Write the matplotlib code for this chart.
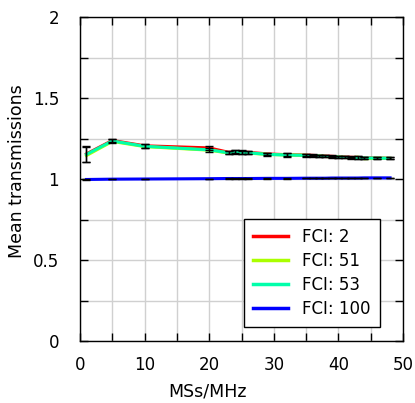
import matplotlib
matplotlib.use("Agg")
import matplotlib.pyplot as plt
import numpy as np

x = [1, 5, 10, 20, 23, 24, 25, 26, 29, 32, 35, 36, 37, 38, 39, 40, 41, 42, 43, 44, 46, 48]

fci2 = [1.155, 1.238, 1.205, 1.192, 1.165, 1.168, 1.166, 1.165, 1.155, 1.150, 1.148, 1.146, 1.144, 1.142, 1.140, 1.138, 1.136, 1.134, 1.133, 1.131, 1.130, 1.128]
fci51 = [1.145, 1.232, 1.200, 1.178, 1.160, 1.166, 1.162, 1.160, 1.152, 1.148, 1.146, 1.143, 1.141, 1.139, 1.137, 1.135, 1.133, 1.131, 1.135, 1.125, 1.128, 1.127]
fci53 = [1.152, 1.235, 1.202, 1.180, 1.162, 1.167, 1.164, 1.162, 1.152, 1.148, 1.146, 1.144, 1.142, 1.140, 1.138, 1.136, 1.134, 1.132, 1.132, 1.130, 1.129, 1.128]
fci100 = [0.997, 0.999, 1.000, 1.002, 1.003, 1.003, 1.003, 1.003, 1.004, 1.004, 1.005, 1.005, 1.005, 1.005, 1.006, 1.006, 1.006, 1.006, 1.006, 1.007, 1.007, 1.007]
err = [0.048, 0.012, 0.012, 0.012, 0.008, 0.010, 0.010, 0.010, 0.008, 0.010, 0.008, 0.006, 0.006, 0.006, 0.006, 0.006, 0.006, 0.006, 0.008, 0.006, 0.006, 0.006]

labels = ["FCI: 2", "FCI: 51", "FCI: 53", "FCI: 100"]
colors = ["#ff0000", "#aaff00", "#00ffaa", "#0000ff"]

plt.rcParams['font.family'] = ['DejaVu Sans']
fig = plt.figure(figsize=(4.15, 4.03), dpi=100)
ax = fig.add_axes([80/415, 1-341/403, 323/415, 324/403])

series = [fci2, fci51, fci53, fci100]
for s, c, l in zip(series, colors, labels):
    ax.plot(x, s, color=c, lw=2.2, label=l, zorder=3)
for s in [fci2, fci53]:
    ax.errorbar(x, s, yerr=err, fmt='none', ecolor='black', elinewidth=1.0, capsize=2.8, capthick=1.0, zorder=4)
ax.errorbar(x, fci100, yerr=[0.001]*len(x), fmt='none', ecolor='black', elinewidth=1.0, capsize=2.8, capthick=1.0, zorder=4)

ax.set_xlim(0, 50)
ax.set_ylim(0, 2)
ax.set_xticks(np.arange(0, 51, 10))
ax.set_xticks(np.arange(0, 51, 5), minor=True)
ax.set_yticks([0, 0.5, 1, 1.5, 2])
ax.set_yticklabels(["0", "0.5", "1", "1.5", "2"])
ax.set_yticks(np.arange(0, 2.01, 0.25), minor=True)
ax.grid(True, which='both', color='#d0d0d0', lw=1.0)
ax.set_axisbelow(True)
ax.tick_params(which='both', direction='in', top=True, right=True, labelsize=12, length=6, width=1)
ax.tick_params(axis='x', pad=11)
ax.tick_params(axis='y', pad=15)
for sp in ax.spines.values():
    sp.set_linewidth(1.0)
ax.set_xlabel("MSs/MHz", fontsize=12.5)
ax.set_ylabel("Mean transmissions", fontsize=12.5)
ax.xaxis.set_label_coords((207 - 80) / 323, (341 - 392) / 324)
ax.yaxis.set_label_coords((17 - 80) / 323, (341 - 171) / 324)
ax.xaxis.label.set_va('center')
ax.yaxis.label.set_va('center')

leg = ax.legend(loc='lower right', bbox_to_anchor=(0.929, 0.043), fontsize=12, frameon=True, fancybox=False,
                edgecolor='black', framealpha=1, handlelength=2.1, labelspacing=0.36, borderpad=0.55, handletextpad=0.85,
                borderaxespad=0)
leg.get_frame().set_linewidth(1.0)
for h in leg.get_lines():
    h.set_linewidth(2.5)

fig.savefig("out.png", dpi=100)
